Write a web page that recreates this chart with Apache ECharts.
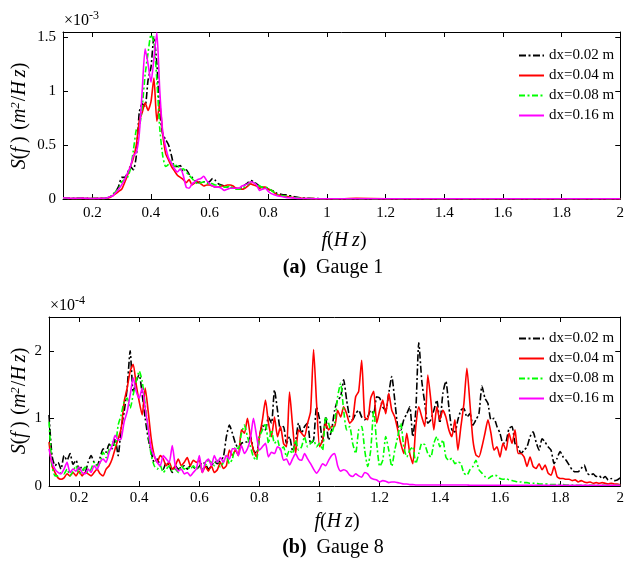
<!DOCTYPE html>
<html>
<head>
<meta charset="utf-8">
<script src="https://cdn.jsdelivr.net/npm/echarts@6/dist/echarts.min.js"></script>
<style>
html,body{margin:0;padding:0;background:#fff;}
#c{width:627px;height:571px;}
</style>
</head>
<body>
<div id="c"></div>
<script>
// ---------- DATA ----------
const seriesNames = ['dx=0.02 m', 'dx=0.04 m', 'dx=0.08 m', 'dx=0.16 m'];
const xTicks = [0.2, 0.4, 0.6, 0.8, 1, 1.2, 1.4, 1.6, 1.8, 2];
const yTicksTop = [0, 0.5, 1, 1.5];
const yTicksBottom = [0, 1, 2];

// Gauge 1 (units of 1e-3 m^2/Hz)
const freqTop = [0.10,0.12,0.14,0.16,0.18,0.20,0.22,0.24,
 0.25,0.26,0.27,0.28,0.29,0.30,0.31,0.32,0.33,0.34,0.35,0.36,0.37,0.38,0.39,0.40,0.41,0.42,0.43,0.44,
 0.45,0.46,0.47,0.48,0.49,0.50,0.51,0.52,0.53,0.54,0.55,0.56,0.57,0.58,0.59,0.60,0.61,0.62,0.63,0.64,
 0.65,0.66,0.67,0.68,0.69,0.70,0.71,0.72,0.73,0.74,0.75,0.76,0.77,0.78,0.79,0.80,0.81,0.82,0.83,0.84,
 0.85,0.86,0.87,0.88,0.89,0.90,0.91,0.92,0.93,0.94,0.95,0.96,0.97,0.98,0.99,1.00,
 1.05,1.10,1.20,1.30,1.40,1.50,1.60,1.70,1.80,1.90,2.00];
const g1Black = [0.010,0.008,0.006,0.008,0.006,0.005,0.006,0.008,
 0.01,0.02,0.04,0.07,0.12,0.20,0.20,0.24,0.30,0.27,0.40,0.80,0.88,0.86,1.10,1.22,1.50,1.25,0.80,0.60,
 0.55,0.50,0.40,0.30,0.30,0.31,0.26,0.27,0.23,0.20,0.17,0.15,0.16,0.16,0.15,0.16,0.19,0.17,0.14,0.13,
 0.12,0.11,0.11,0.10,0.10,0.09,0.11,0.13,0.15,0.17,0.16,0.14,0.12,0.10,0.10,0.09,0.08,0.07,0.05,0.045,
 0.04,0.04,0.03,0.03,0.02,0.015,0.012,0.01,0.008,0.006,0.005,0.004,0.004,0.003,0.003,0.003,
 0.003,0.003,0.002,0.002,0.002,0.002,0.002,0.002,0.002,0.002,0.002];
const g1Red = [0.008,0.006,0.005,0.006,0.005,0.004,0.005,0.006,
 0.01,0.015,0.03,0.05,0.07,0.09,0.15,0.22,0.30,0.38,0.50,0.72,0.80,0.89,0.82,0.90,1.12,0.72,0.88,0.60,
 0.42,0.36,0.30,0.26,0.22,0.20,0.18,0.15,0.18,0.13,0.15,0.16,0.14,0.12,0.13,0.13,0.12,0.11,0.11,0.12,
 0.12,0.13,0.13,0.12,0.10,0.10,0.09,0.10,0.12,0.14,0.13,0.12,0.10,0.11,0.11,0.09,0.08,0.06,0.04,0.035,
 0.03,0.025,0.02,0.015,0.012,0.01,0.008,0.006,0.005,0.004,0.004,0.003,0.003,0.003,0.003,0.002,
 0.002,0.006,0.002,0.002,0.002,0.002,0.002,0.002,0.002,0.002,0.002];
const g1Green = [0.008,0.006,0.005,0.006,0.005,0.004,0.005,0.006,
 0.01,0.02,0.04,0.07,0.10,0.16,0.18,0.20,0.28,0.45,0.64,0.66,0.85,1.15,1.35,1.52,1.45,1.10,0.65,0.40,
 0.30,0.32,0.35,0.30,0.32,0.27,0.28,0.25,0.22,0.19,0.16,0.14,0.15,0.16,0.14,0.15,0.14,0.13,0.13,0.12,
 0.11,0.11,0.12,0.10,0.09,0.09,0.10,0.11,0.13,0.16,0.15,0.14,0.12,0.11,0.11,0.10,0.08,0.06,0.04,0.035,
 0.03,0.025,0.02,0.015,0.012,0.01,0.008,0.006,0.005,0.004,0.004,0.003,0.003,0.003,0.003,0.002,
 0.002,0.002,0.002,0.002,0.002,0.002,0.002,0.002,0.002,0.002,0.002];
const g1Magenta = [0.010,0.008,0.006,0.008,0.006,0.005,0.006,0.008,
 0.01,0.02,0.03,0.06,0.09,0.13,0.18,0.24,0.30,0.40,0.43,0.60,1.00,1.39,1.25,1.08,1.30,1.54,1.00,0.62,
 0.48,0.38,0.33,0.28,0.25,0.28,0.22,0.11,0.10,0.14,0.16,0.18,0.19,0.21,0.17,0.14,0.12,0.11,0.11,0.10,
 0.08,0.09,0.10,0.10,0.10,0.10,0.12,0.13,0.14,0.16,0.15,0.13,0.08,0.09,0.10,0.07,0.05,0.04,0.03,0.025,
 0.02,0.015,0.012,0.01,0.008,0.006,0.005,0.005,0.004,0.004,0.003,0.003,0.003,0.002,0.002,0.002,
 0.002,0.002,0.002,0.002,0.002,0.002,0.002,0.002,0.002,0.002,0.002];

// Gauge 8 (units of 1e-4 m^2/Hz), f = 0.10 ... 2.00 step 0.01
const freqBottom = [
 0.10,0.11,0.12,0.13,0.14,0.15,0.16,0.17,0.18,0.19,
 0.20,0.21,0.22,0.23,0.24,0.25,0.26,0.27,0.28,0.29,
 0.30,0.31,0.32,0.33,0.34,0.35,0.36,0.37,0.38,0.39,
 0.40,0.41,0.42,0.43,0.44,0.45,0.46,0.47,0.48,0.49,
 0.50,0.51,0.52,0.53,0.54,0.55,0.56,0.57,0.58,0.59,
 0.60,0.61,0.62,0.63,0.64,0.65,0.66,0.67,0.68,0.69,
 0.70,0.71,0.72,0.73,0.74,0.75,0.76,0.77,0.78,0.79,
 0.80,0.81,0.82,0.83,0.84,0.85,0.86,0.87,0.88,0.89,
 0.90,0.91,0.92,0.93,0.94,0.95,0.96,0.97,0.98,0.99,
 1.00,1.01,1.02,1.03,1.04,1.05,1.06,1.07,1.08,1.09,
 1.10,1.11,1.12,1.13,1.14,1.15,1.16,1.17,1.18,1.19,
 1.20,1.21,1.22,1.23,1.24,1.25,1.26,1.27,1.28,1.29,
 1.30,1.31,1.32,1.33,1.34,1.35,1.36,1.37,1.38,1.39,
 1.40,1.41,1.42,1.43,1.44,1.45,1.46,1.47,1.48,1.49,
 1.50,1.51,1.52,1.53,1.54,1.55,1.56,1.57,1.58,1.59,
 1.60,1.61,1.62,1.63,1.64,1.65,1.66,1.67,1.68,1.69,
 1.70,1.71,1.72,1.73,1.74,1.75,1.76,1.77,1.78,1.79,
 1.80,1.81,1.82,1.83,1.84,1.85,1.86,1.87,1.88,1.89,
 1.90,1.91,1.92,1.93,1.94,1.95,1.96,1.97,1.98,1.99,
 2.00];
const g8Black = [
 1.05,0.45,0.30,0.35,0.25,0.45,0.38,0.48,0.32,0.38,
 0.25,0.28,0.20,0.35,0.45,0.35,0.30,0.42,0.55,0.50,
 0.62,0.55,0.70,0.45,0.85,1.10,1.45,2.00,1.40,1.55,
 1.65,1.35,1.00,0.70,0.50,0.35,0.40,0.30,0.25,0.35,
 0.30,0.20,0.30,0.25,0.28,0.30,0.25,0.30,0.28,0.25,
 0.29,0.35,0.33,0.25,0.29,0.36,0.33,0.38,0.43,0.73,
 0.90,0.78,0.63,0.56,0.63,0.65,0.65,0.73,0.53,0.48,
 0.73,0.90,0.83,1.02,0.93,1.42,1.12,0.83,0.88,0.63,
 0.73,0.53,0.65,0.93,0.78,0.88,0.93,0.63,0.68,1.17,
 0.98,0.65,1.02,0.68,0.83,1.12,1.27,1.32,1.57,1.27,
 1.02,0.98,1.07,1.12,1.02,0.98,1.02,1.12,1.07,1.32,
 1.30,1.17,1.12,1.37,1.62,1.27,0.88,0.83,0.98,1.07,
 1.17,0.73,1.12,2.12,1.55,1.22,0.93,0.98,1.12,1.27,
 0.93,1.37,1.55,1.17,0.83,0.80,0.98,1.12,1.15,1.02,
 1.07,0.90,0.98,1.07,1.48,1.30,1.22,0.98,1.00,0.88,
 0.78,0.63,0.65,0.85,0.88,0.63,0.58,0.48,0.53,0.58,
 0.73,0.80,0.65,0.53,0.70,0.65,0.58,0.53,0.33,0.41,
 0.51,0.43,0.38,0.31,0.24,0.21,0.21,0.26,0.31,0.19,
 0.16,0.18,0.14,0.15,0.11,0.14,0.09,0.11,0.08,0.09,
 0.12];
const g8Red = [
 0.65,0.30,0.20,0.12,0.10,0.12,0.18,0.15,0.20,0.15,
 0.22,0.15,0.20,0.18,0.15,0.20,0.25,0.18,0.15,0.25,
 0.30,0.40,0.55,0.70,0.85,1.25,1.45,1.70,1.80,1.50,
 1.25,1.05,1.45,1.10,0.70,0.45,0.35,0.45,0.40,0.30,
 0.35,0.25,0.30,0.40,0.30,0.35,0.42,0.30,0.38,0.35,
 0.38,0.20,0.29,0.22,0.30,0.20,0.24,0.35,0.26,0.30,
 0.53,0.45,0.53,0.45,0.83,0.78,1.00,0.73,0.53,0.43,
 0.73,0.98,1.27,0.93,0.73,1.02,0.73,0.88,0.63,0.58,
 1.39,0.90,0.48,0.83,0.78,0.73,0.93,1.10,2.02,1.22,
 0.58,0.68,0.93,0.83,0.88,0.88,1.12,1.02,1.17,1.07,
 0.93,0.98,1.32,1.40,1.86,1.02,0.98,1.30,1.40,0.93,
 1.12,1.27,1.07,1.37,1.12,1.02,0.83,0.63,0.48,0.78,
 0.48,0.33,0.88,1.17,1.02,0.88,1.64,1.27,0.83,1.17,
 0.98,1.12,1.02,0.83,0.73,0.98,0.53,0.88,1.22,1.74,
 1.22,0.68,0.46,0.43,0.58,0.78,0.98,0.78,0.53,0.58,
 0.43,0.63,0.53,0.78,0.63,0.83,0.48,0.48,0.43,0.29,
 0.43,0.29,0.26,0.33,0.24,0.31,0.19,0.16,0.29,0.14,
 0.11,0.11,0.10,0.10,0.08,0.09,0.06,0.08,0.06,0.05,
 0.06,0.04,0.05,0.04,0.05,0.04,0.03,0.04,0.03,0.03,
 0.02];
const g8Green = [
 0.95,0.30,0.15,0.15,0.20,0.18,0.25,0.15,0.22,0.30,
 0.18,0.22,0.28,0.20,0.25,0.35,0.30,0.35,0.50,0.42,
 0.55,0.65,0.60,0.90,1.05,1.25,1.30,1.15,1.35,1.55,
 1.70,1.55,1.20,0.80,0.45,0.30,0.25,0.30,0.20,0.25,
 0.30,0.22,0.25,0.20,0.30,0.25,0.28,0.25,0.30,0.25,
 0.30,0.25,0.30,0.38,0.35,0.30,0.38,0.28,0.35,0.45,
 0.33,0.40,0.58,0.55,0.78,0.90,0.73,0.58,0.43,0.38,
 0.73,0.83,0.93,0.63,0.83,0.63,0.68,0.53,0.58,0.43,
 0.53,0.48,0.68,0.53,0.58,0.73,0.58,0.63,0.68,0.58,
 0.63,0.53,1.02,0.93,0.78,0.93,1.32,1.52,1.12,0.83,
 0.88,0.63,0.48,0.83,0.88,0.53,0.29,0.53,1.12,0.63,
 0.29,0.38,0.73,0.53,0.29,0.53,0.73,0.93,0.58,0.43,
 0.53,0.58,0.33,0.48,0.63,0.61,0.48,0.43,0.63,0.73,
 0.58,0.68,0.43,0.38,0.41,0.33,0.36,0.33,0.19,0.16,
 0.24,0.29,0.38,0.24,0.19,0.14,0.11,0.14,0.16,0.15,
 0.11,0.10,0.11,0.09,0.08,0.07,0.06,0.06,0.05,0.05,
 0.04,0.04,0.04,0.03,0.03,0.03,0.03,0.02,0.02,0.02,
 0.02,0.02,0.015,0.015,0.015,0.012,0.012,0.012,0.01,0.01,
 0.01,0.01,0.01,0.01,0.01,0.01,0.01,0.01,0.01,0.01,
 0.01];
const g8Magenta = [
 0.55,0.35,0.25,0.20,0.18,0.25,0.35,0.20,0.25,0.22,
 0.28,0.20,0.18,0.25,0.20,0.30,0.25,0.35,0.40,0.35,
 0.50,0.60,0.75,0.68,0.70,0.95,1.10,1.35,1.60,1.40,
 1.30,1.45,1.15,0.85,0.55,0.45,0.35,0.30,0.45,0.40,
 0.35,0.60,0.30,0.22,0.25,0.18,0.20,0.15,0.20,0.25,
 0.45,0.20,0.35,0.40,0.30,0.45,0.35,0.42,0.35,0.45,
 0.40,0.55,0.55,0.45,0.60,0.48,0.55,0.70,1.00,0.75,
 0.53,0.58,0.63,0.43,0.50,0.48,0.58,0.55,0.38,0.40,
 0.31,0.40,0.48,0.40,0.38,0.48,0.40,0.33,0.25,0.19,
 0.25,0.33,0.30,0.38,0.45,0.48,0.30,0.22,0.24,0.22,
 0.16,0.14,0.18,0.15,0.13,0.20,0.18,0.12,0.10,0.09,
 0.06,0.08,0.07,0.05,0.06,0.06,0.05,0.04,0.03,0.03,
 0.02,0.02,0.015,0.015,0.015,0.015,0.015,0.015,0.015,0.015,
 0.015,0.015,0.015,0.015,0.015,0.015,0.015,0.015,0.015,0.015,
 0.01,0.01,0.01,0.01,0.01,0.01,0.01,0.01,0.01,0.01,
 0.01,0.01,0.01,0.01,0.01,0.01,0.01,0.01,0.01,0.01,
 0.01,0.01,0.01,0.01,0.01,0.01,0.01,0.01,0.01,0.01,
 0.01,0.01,0.01,0.01,0.01,0.01,0.01,0.01,0.01,0.01,
 0.01,0.01,0.01,0.01,0.01,0.01,0.01,0.01,0.01,0.01,
 0.01];

// ---------- CHART ----------
const SERIF = '"Liberation Serif", "Times New Roman", serif';
const colors = ['#000000', '#ff0000', '#00ff00', '#ff00ff'];
const dashes = [[7, 2.5, 2, 2.5], 'solid', [6, 2.5, 2, 2.5], 'solid'];

function pairs(fr, vals) { return fr.map((f, i) => [f, vals[i]]); }

const grids = [
  { left: 63, right: 2, top: 32, height: 167 },
  { left: 49, right: 2, top: 317, height: 169 }
];
const yMax = [1.545, 2.5];
const yTicks = [yTicksTop, yTicksBottom];

const xAxes = [], yAxes = [];
[0, 1].forEach(g => {
  const common = {
    gridIndex: g, type: 'value', min: 0.1, max: 2,
    axisLine: { show: true, onZero: false, lineStyle: { color: '#000', width: 1 } },
    splitLine: { show: false }
  };
  xAxes.push(Object.assign({}, common, {
    position: 'bottom',
    axisTick: { show: true, inside: true, length: 5, customValues: xTicks, lineStyle: { color: '#000' } },
    axisLabel: { show: true, customValues: xTicks, margin: g === 0 ? 7 : 5, fontFamily: SERIF, fontSize: 15, color: '#000',
      formatter: v => String(+(+v).toFixed(1)) }
  }));
  xAxes.push(Object.assign({}, common, {
    position: 'top',
    axisTick: { show: true, inside: true, length: 5, customValues: xTicks, lineStyle: { color: '#000' } },
    axisLabel: { show: false }
  }));
  const yc = {
    gridIndex: g, type: 'value', min: 0, max: yMax[g],
    axisLine: { show: true, onZero: false, lineStyle: { color: '#000', width: 1 } },
    splitLine: { show: false }
  };
  yAxes.push(Object.assign({}, yc, {
    position: 'left',
    axisTick: { show: true, inside: true, length: 5, customValues: yTicks[g], lineStyle: { color: '#000' } },
    axisLabel: { show: true, customValues: yTicks[g], margin: 7, fontFamily: SERIF, fontSize: 15, color: '#000',
      formatter: v => String(+(+v).toFixed(1)) }
  }));
  yAxes.push(Object.assign({}, yc, {
    position: 'right',
    axisTick: { show: true, inside: true, length: 5, customValues: yTicks[g], lineStyle: { color: '#000' } },
    axisLabel: { show: false }
  }));
});

const topData = [g1Black, g1Red, g1Green, g1Magenta];
const botData = [g8Black, g8Red, g8Green, g8Magenta];
const series = [];
topData.forEach((d, i) => series.push({
  name: seriesNames[i], type: 'line', xAxisIndex: 0, yAxisIndex: 0,
  data: pairs(freqTop, d), symbol: 'none', showSymbol: false, smooth: 0.2,
  lineStyle: { color: colors[i], width: 1.6, type: dashes[i] }, itemStyle: { color: colors[i] },
  animation: false, z: 2 + i
}));
botData.forEach((d, i) => series.push({
  name: seriesNames[i], type: 'line', xAxisIndex: 2, yAxisIndex: 2,
  data: pairs(freqBottom, d), symbol: 'none', showSymbol: false, smooth: 0.2,
  lineStyle: { color: colors[i], width: 1.6, type: dashes[i] }, itemStyle: { color: colors[i] },
  animation: false, z: 2 + i
}));

const legendCommon = {
  orient: 'vertical', left: 513, itemWidth: 25, itemHeight: 14, itemGap: 5,
  itemStyle: { opacity: 0 },
  textStyle: { fontFamily: SERIF, fontSize: 15, color: '#000' },
  selectedMode: false, data: seriesNames
};

const it = { fontFamily: SERIF, fontStyle: 'italic', fontSize: 20, color: '#000' };
const rm = { fontFamily: SERIF, fontSize: 20, color: '#000' };
const sup = { fontFamily: SERIF, fontStyle: 'italic', fontSize: 13, color: '#000', verticalAlign: 'top', padding: [0, 1, 9, 0] };
const TS = '\u2009';

function yName(cx, cy) {
  return {
    type: 'text', x: cx, y: cy, rotation: Math.PI / 2,
    style: {
      text: '{i|S}{r|(}{i|f' + TS + '}{r|)}  {r|(}{i|m}{s|2}{r|/}{i|H' + TS + 'z}{r|)}',
      align: 'center', verticalAlign: 'middle',
      rich: { i: it, r: rm, s: sup }
    }
  };
}
function xName(cx, cy) {
  return {
    type: 'text', x: cx, y: cy,
    style: { text: '{i|f}{r|(}{i|H' + TS + 'z}{r|)}', align: 'center', verticalAlign: 'middle', rich: { i: it, r: rm } }
  };
}
function expo(x, y, e) {
  return {
    type: 'text', x: x, y: y,
    style: { text: '{r|×10}{s|' + e + '}', align: 'left', verticalAlign: 'middle',
      rich: { r: { fontFamily: SERIF, fontSize: 16, color: '#000' },
              s: { fontFamily: SERIF, fontSize: 12, color: '#000', padding: [0, 0, 10, 0] } } }
  };
}
function caption(cx, cy, a, t) {
  return {
    type: 'text', x: cx, y: cy,
    style: { text: '{b|' + a + '}   {r|' + t + '}', align: 'center', verticalAlign: 'middle',
      rich: { b: { fontFamily: SERIF, fontWeight: 'bold', fontSize: 20, color: '#000' },
              r: { fontFamily: SERIF, fontSize: 20, color: '#000' } } }
  };
}

const chart = echarts.init(document.getElementById('c'), null, { renderer: 'canvas' });
chart.setOption({
  backgroundColor: '#fff',
  animation: false,
  grid: grids,
  xAxis: xAxes,
  yAxis: yAxes,
  legend: [
    Object.assign({}, legendCommon, { top: 43 }),
    Object.assign({}, legendCommon, { top: 326 })
  ],
  series: series,
  graphic: [
    yName(20, 116), yName(20, 401),
    xName(344, 241), xName(337, 522),
    expo(64, 21, '-3'), expo(50, 306, '-4'),
    caption(333, 268, '(a)', 'Gauge 1'), caption(333, 548, '(b)', 'Gauge 8')
  ]
});
</script>
</body>
</html>
